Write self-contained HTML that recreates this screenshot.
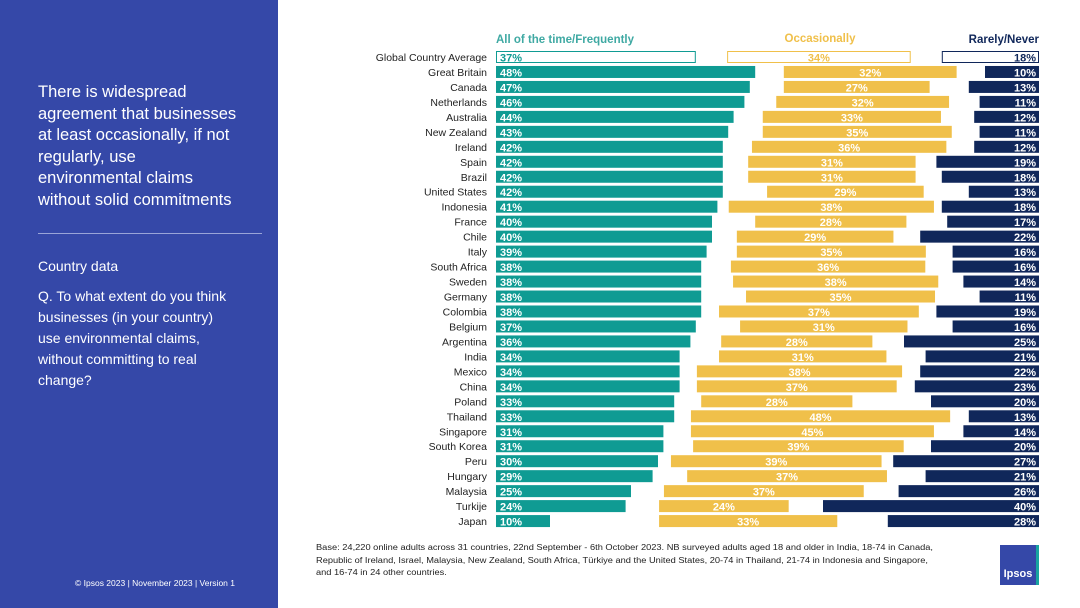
<!DOCTYPE html>
<html><head><meta charset="utf-8"><style>
body{margin:0;width:1080px;height:608px;overflow:hidden;background:#fff;font-family:"Liberation Sans","Noto Sans CJK SC",sans-serif;position:relative}
#panel{position:absolute;left:0;top:0;width:278px;height:608px;background:#3548a8;color:#fff}
.t{position:absolute;left:38px;white-space:nowrap}
</style></head><body>
<div id="panel">
<div class="t" style="top:82px;font-size:16.5px;line-height:21.5px">There is widespread<br>agreement that businesses<br>at least occasionally, if not<br>regularly, use<br>environmental claims<br>without solid commitments</div>
<div style="position:absolute;left:38px;top:233px;width:224px;height:1px;background:#9aa5d8"></div>
<div class="t" style="top:258px;font-size:14px">Country data</div>
<div class="t" style="top:286px;font-size:14px;line-height:21px">Q. To what extent do you think<br>businesses (in your country)<br>use environmental claims,<br>without committing to real<br>change?</div>
<div class="t" style="top:578px;left:75px;font-size:8.5px">© Ipsos 2023 | November 2023 | Version 1</div>
</div>
<div style="position:absolute;left:316px;top:542px;font-size:8px;line-height:12.5px;color:#222;white-space:nowrap;transform:scaleX(1.158);transform-origin:0 0">Base: 24,220 online adults across 31 countries, 22nd September - 6th October 2023. NB surveyed adults aged 18 and older in India, 18-74 in Canada,<br>Republic of Ireland, Israel, Malaysia, New Zealand, South Africa, Türkiye and the United States, 20-74 in Thailand, 21-74 in Indonesia and Singapore,<br>and 16-74 in 24 other countries.</div>
<div style="position:absolute;left:1000px;top:545px;width:36px;height:40px;background:#3548a8;color:#fff;font-size:11px;font-weight:bold;text-align:center;line-height:58px;border-right:3px solid #19a4a0">Ipsos</div>
<svg id="chart" width="1080" height="608" style="position:absolute;left:0;top:0"></svg>
<script>
const countries=["Global Country Average","Great Britain","Canada","Netherlands","Australia","New Zealand","Ireland","Spain","Brazil","United States","Indonesia","France","Chile","Italy","South Africa","Sweden","Germany","Colombia","Belgium","Argentina","India","Mexico","China","Poland","Thailand","Singapore","South Korea","Peru","Hungary","Malaysia","Turkije","Japan"];
const frequent=[37,48,47,46,44,43,42,42,42,42,41,40,40,39,38,38,38,38,37,36,34,34,34,33,33,31,31,30,29,25,24,10];
const occasional=[34,32,27,32,33,35,36,31,31,29,38,28,29,35,36,38,35,37,31,28,31,38,37,28,48,45,39,39,37,37,24,33];
const occStart=[42.8,53.3,53.3,51.9,49.4,49.4,47.4,46.7,46.7,50.2,43.1,48,44.6,44.6,43.5,43.9,46.3,41.3,45.2,41.7,41.3,37.2,37.2,38,36.1,36.1,36.5,32.4,35.4,31.1,30.2,30.2];
const rarely=[18,10,13,11,12,11,12,19,18,13,18,17,22,16,16,14,11,19,16,25,21,22,23,20,13,14,20,27,21,26,40,28];
const headers=["All of the time/Frequently","Occasionally","Rarely/Never"];
const svg=document.getElementById('chart');const NS="http://www.w3.org/2000/svg";
const x0=496,xr=1039,k=5.4,y0=57,dy=14.97,bh=12;
const x=v=>x0+v*k, y=i=>y0+i*dy;
const C=["#0f9b93","#f0c04a","#10275a"];
function el(t,a,txt){const e=document.createElementNS(NS,t);for(const n in a)e.setAttribute(n,a[n]);if(txt!=null)e.textContent=txt;svg.appendChild(e);return e;}
let h;
h=el('text',{x:x0,y:43,'font-size':11.5,'font-weight':'bold',fill:'#3fa9a3'},headers[0]);

h=el('text',{x:820,y:42,'font-size':11.5,'font-weight':'bold',fill:'#f0c04a','text-anchor':'middle'},headers[1]);

h=el('text',{x:xr,y:43,'font-size':11.5,'font-weight':'bold',fill:'#10275a','text-anchor':'end'},headers[2]);

countries.forEach((c,i)=>{
 const g=i===0,cy=y(i);
 let e=el('text',{x:487,y:cy+4,'font-size':10.5,fill:'#222','text-anchor':'end'},c);
 
 const bars=[[x0,frequent[i]*k],[x(occStart[i]),occasional[i]*k],[xr-rarely[i]*k,rarely[i]*k]];
 const vals=[frequent[i],occasional[i],rarely[i]];
 bars.forEach((b,j)=>{
  e=el('rect',{x:b[0]+(g?0.5:0),y:cy-bh/2+(g?0.5:0),width:b[1]-(g?1:0),height:bh-(g?1:0),fill:g?'#fff':C[j],stroke:g?C[j]:'none'});
  
  
  const tx=j===0?b[0]+4:j===1?b[0]+b[1]/2:b[0]+b[1]-3;
  e=el('text',{x:tx,y:cy+4.5,'font-size':11,'font-weight':'bold',fill:g?C[j]:'#fff','text-anchor':['start','middle','end'][j]},vals[j]+'%');
  
  
 });
});
</script>
</body></html>
